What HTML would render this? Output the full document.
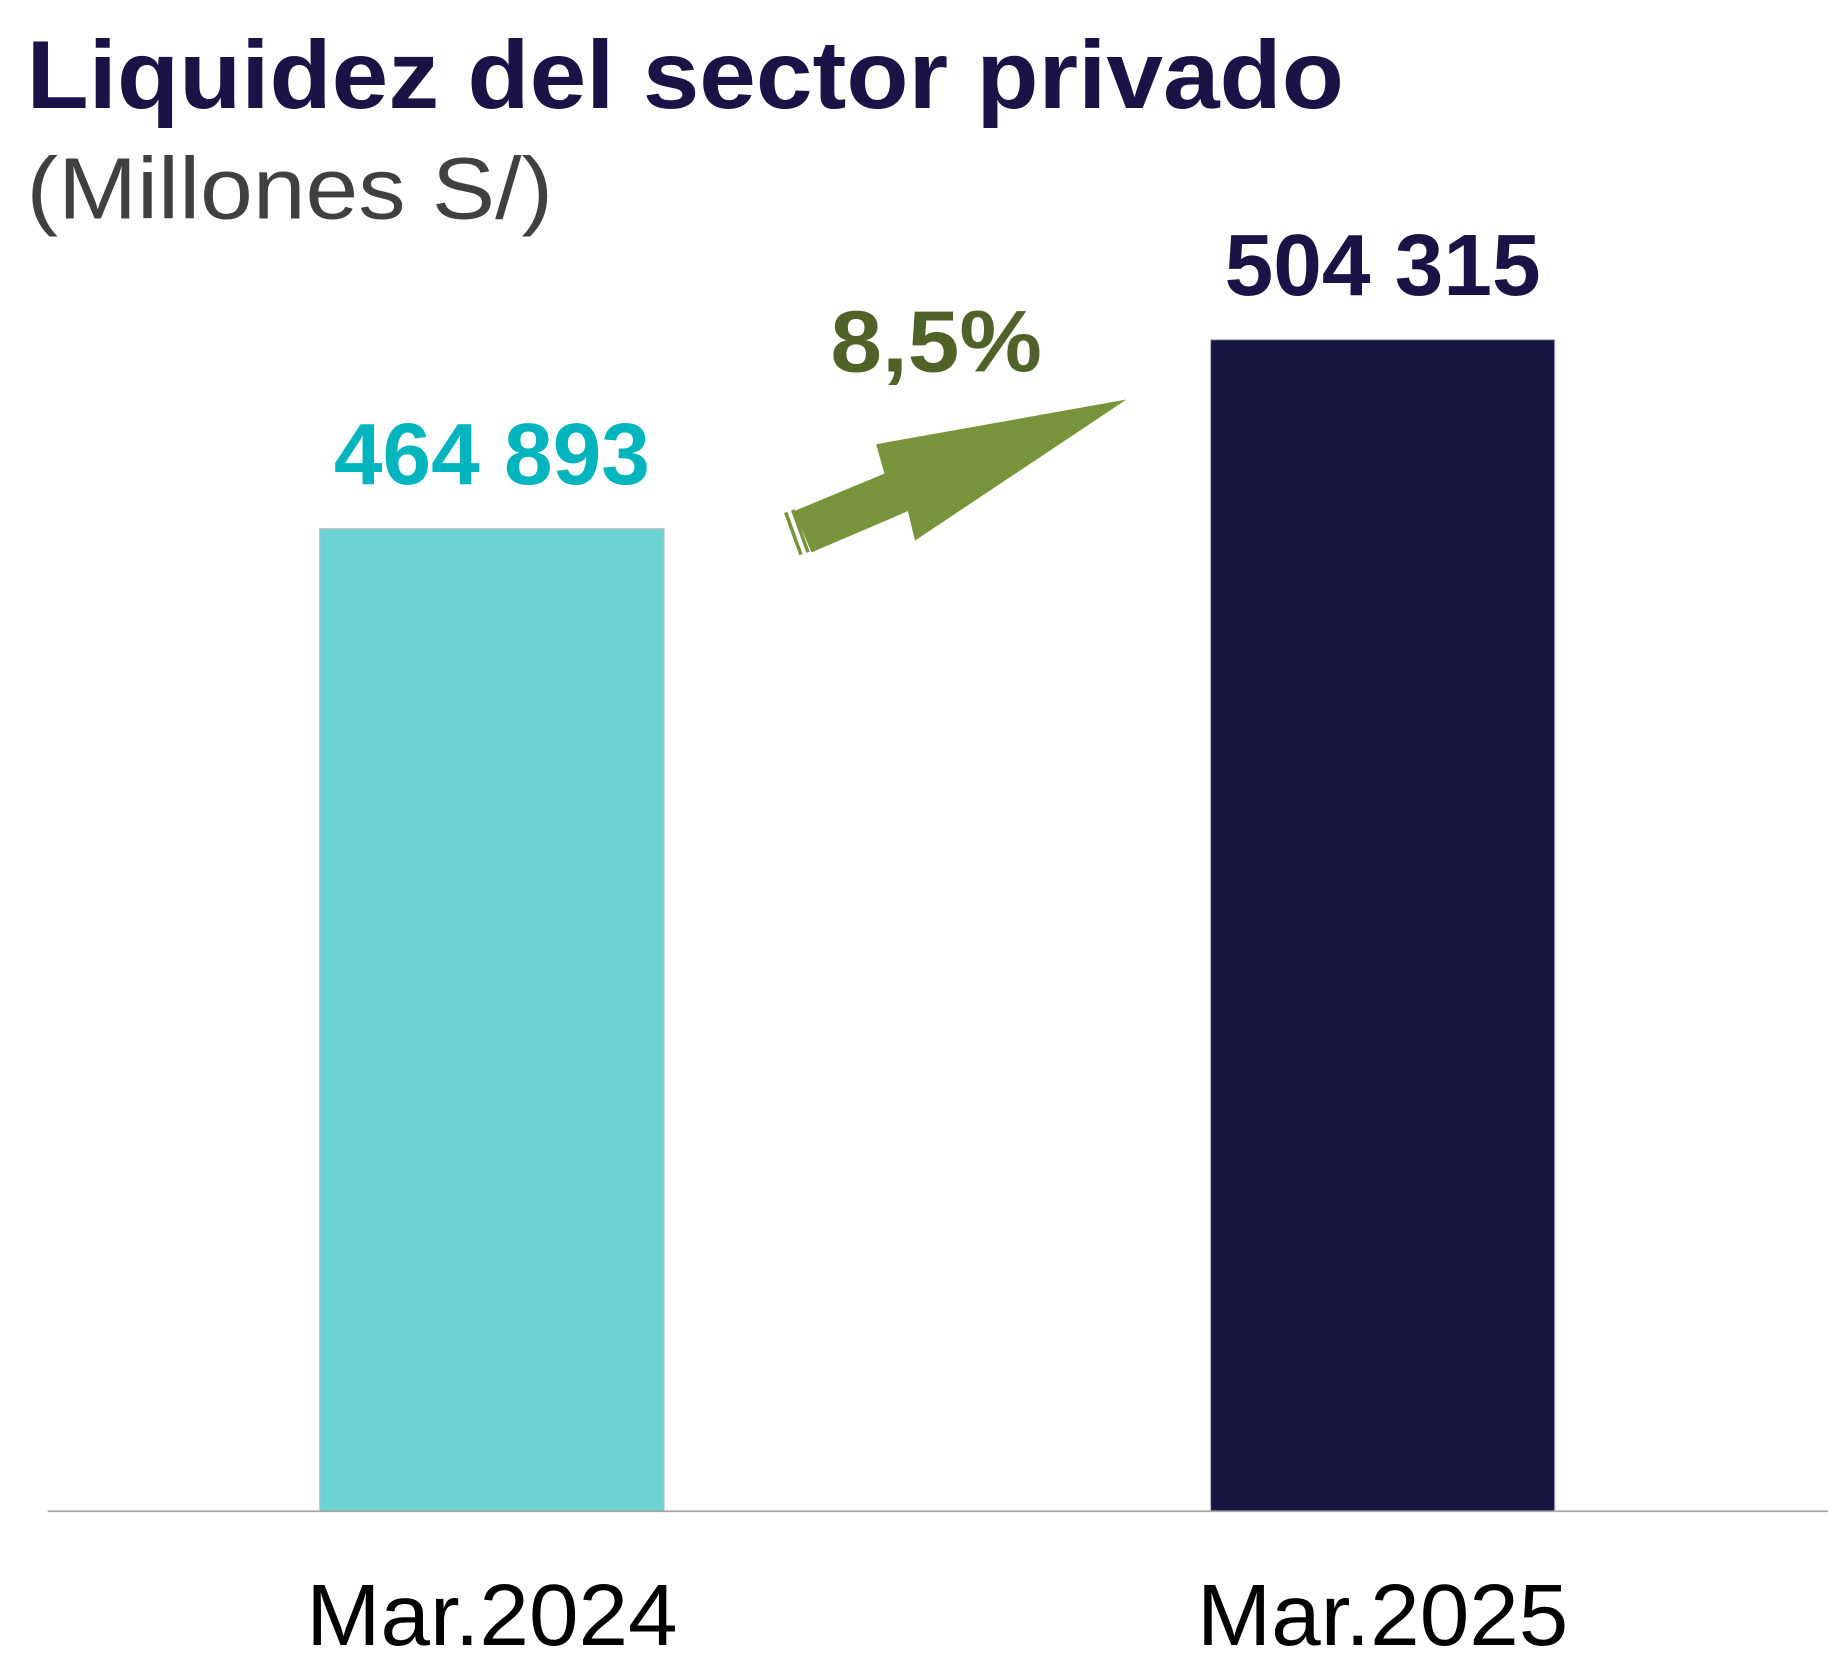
<!DOCTYPE html>
<html><head><meta charset="utf-8"><style>
html,body{margin:0;padding:0;background:#fff;}
svg{display:block;}
</style></head><body>
<svg id="chart" width="1844" height="1664" viewBox="0 0 1568 1416" font-family="Liberation Sans, Arial, sans-serif">
<text x="22" y="92" font-size="82" font-weight="bold" fill="#1a1446" textLength="1121" lengthAdjust="spacingAndGlyphs">Liquidez del sector privado</text>
<text x="22" y="186" font-size="74" fill="#404040" textLength="448" lengthAdjust="spacingAndGlyphs">(Millones S/)</text>
<g id="bars"></g>
<line x1="40" y1="1286" x2="1555" y2="1286" stroke="#a6a6a6" stroke-width="1.5"/>
<g>
<polygon points="675,435 752,403 745,378 958,340 778,460 772,435 690,470" fill="#77933c"/>
<line x1="668" y1="436" x2="681" y2="472" stroke="#77933c" stroke-width="3"/>
<line x1="674" y1="434" x2="687" y2="470" stroke="#77933c" stroke-width="3"/>
</g>
<text x="796" y="316" font-size="74" font-weight="bold" fill="#4f6228" text-anchor="middle" textLength="180" lengthAdjust="spacingAndGlyphs">8,5%</text>
</svg>
<script>
const categories = ["Mar.2024", "Mar.2025"];
const values = [464893, 504315];
const valueLabels = ["464 893", "504 315"];
const axisMin = 260000;
const axisMax = 504315;
const barColors = ["#6bd4d2", "#161542"];
const labelColors = ["#00b5bd", "#1a1446"];
const centers = [418, 1176];
const y0 = 1286, yTop = 289;
function yScale(v){ return y0 - (v - axisMin) / (axisMax - axisMin) * (y0 - yTop); }
const ns = "http://www.w3.org/2000/svg";
const g = document.getElementById('bars');
const bw = 293;
values.forEach((v, i) => {
  const r = document.createElementNS(ns, 'rect');
  
  
  const y = yScale(v);
  r.setAttribute('x', centers[i] - bw / 2);
  r.setAttribute('y', y);
  r.setAttribute('width', bw);
  r.setAttribute('height', y0 - y);
  r.setAttribute('fill', barColors[i]);
  r.setAttribute('stroke', '#bfbfbf');
  r.setAttribute('stroke-width', '1');
  g.appendChild(r);
  const t = document.createElementNS(ns, 'text');
  
  
  t.setAttribute('x', centers[i]);
  t.setAttribute('y', y - 38);
  t.setAttribute('font-size', '74');
  t.setAttribute('font-weight', 'bold');
  t.setAttribute('fill', labelColors[i]);
  t.setAttribute('text-anchor', 'middle');
  t.setAttribute('textLength', '269');
  t.setAttribute('lengthAdjust', 'spacingAndGlyphs');
  t.textContent = valueLabels[i];
  g.appendChild(t);
  const c = document.createElementNS(ns, 'text');
  
  
  c.setAttribute('x', centers[i]);
  c.setAttribute('y', 1400);
  c.setAttribute('font-size', '74');
  c.setAttribute('fill', '#000');
  c.setAttribute('text-anchor', 'middle');
  c.setAttribute('textLength', '316');
  c.setAttribute('lengthAdjust', 'spacingAndGlyphs');
  c.textContent = categories[i];
  g.appendChild(c);
});
</script>
</body></html>
